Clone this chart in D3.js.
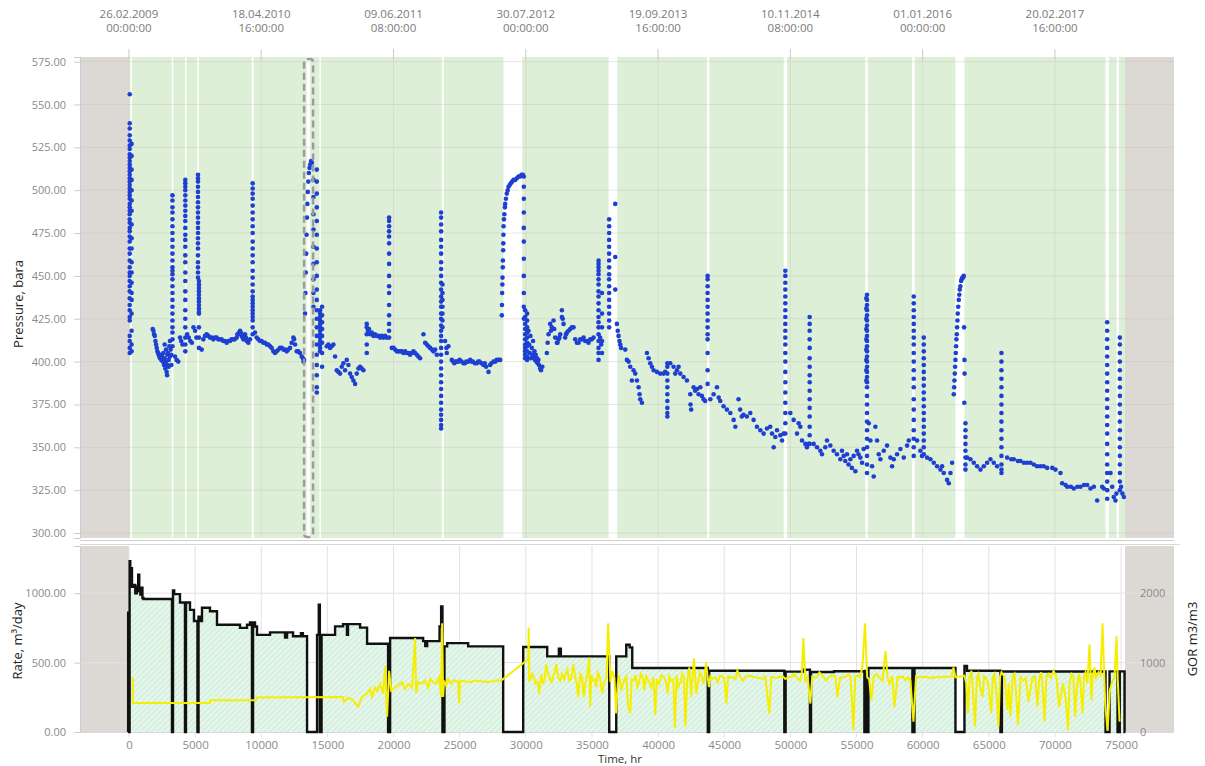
<!DOCTYPE html>
<html><head><meta charset="utf-8">
<script src="https://cdn.jsdelivr.net/npm/d3@7"></script>
<style>
body{margin:0;background:#fff;}
text{font-family:"Open Sans","Liberation Sans",sans-serif;}
</style></head><body>
<svg id="chart" width="1205" height="766"></svg>
<script>
// ---------------- DATA ----------------
const timeTicks = [0,5000,10000,15000,20000,25000,30000,35000,40000,45000,50000,55000,60000,65000,70000,75000];
const dateTickHours = [0,10000,20000,30000,40000,50000,60000,70000];
const dateTickLabels = [["26.02.2009","00:00:00"],["18.04.2010","16:00:00"],["09.06.2011","08:00:00"],["30.07.2012","00:00:00"],["19.09.2013","16:00:00"],["10.11.2014","08:00:00"],["01.01.2016","00:00:00"],["20.02.2017","16:00:00"]];
const pressureTicks = [300,325,350,375,400,425,450,475,500,525,550,575];
const rateTicks = [0,500,1000];
const gorTicks = [0,1000,2000];
const productionWindow = [0,75300];
const highlightPeriod = [13240,13920];
const shutInPeriods = [[120,220],[3230,3350],[4240,4330],[5170,5290],[9280,9430],[13440,13690],[14400,14520],[23650,23800],[28310,29730],[36260,36910],[43700,43870],[49500,49750],[55670,55850],[59200,59400],[62480,63160],[73825,74080],[74660,74830]];

// pressure: single points [hours, bar]
const pressurePoints = [
[1800,419],[1850,418],[1900,416],[1950,415],[2000,412],[2050,410],[2100,408],[2150,406],[2200,405],[2250,404],[2300,403],[2350,402],[2400,404],[2450,401],[2500,403],[2550,400],[2600,405],[2650,398],[2700,402],[2750,396],[2800,400],[2850,394],[2880,392],[2900,398],[2950,405],[3000,401],[3050,409],[3100,403],[3150,407],[3200,404],[2700,410],[2800,407],[2900,404],[3000,397],[3100,412],[3200,398],
[3480,403],[3600,401],[3730,400],[3858,414],[3950,412],[4050,410],[4400,416],[4520,414],[4640,412],[4760,411],[4880,420],[5000,418],[5100,414],
[5500,407],[5622,413],[5750,415],[5874,416],[6000,415],[6127,414],[6250,414],[6379,413],[6500,414],[6631,414],[6750,413],[6883,413],[7000,413],[7135,412],[7250,412],[7388,411],[7500,412],[7640,412],[7750,413],[7892,413],[8000,413],[8144,414],[8200,416],[8270,416],[8330,417],[8396,418],[8460,417],[8522,415],[8590,414],[8648,413],[8700,415],[8774,416],[8840,414],[8900,412],[8960,412],[9026,411],[9152,413],
[9530,417],[9656,414],[9780,413],[9909,412],[10030,412],[10161,411],[10290,411],[10413,410],[10540,410],[10665,409],[10790,408],[10917,406],[11043,405],[11169,406],[11300,407],[11422,408],[11550,408],[11674,407],[11800,407],[11926,406],[12050,407],[12178,408],[12300,411],[12430,414],[12480,413],[12556,410],[12682,406],[12800,406],[12934,405],[13060,403],[13150,402],[13200,400],[13237,401],
[13313,428],[13340,440],[13370,452],[13400,463],[13430,474],[13460,484],[13490,492],[13520,499],[13560,505],[13600,510],[13650,513],[13700,515],[13760,517],[13830,516],
[14952,409],[15078,410],[15203,408],[15330,409],[15456,410],[15582,403],[15708,395],[15834,394],[15960,393],[16086,397],[16212,399],[16338,395],[16464,401],[16590,398],[16716,393],[16842,391],[16968,389],[17095,387],[17221,393],[17347,396],[17473,397],[17599,396],[17725,395],
[18060,418],[18150,419],[18229,416],[18355,417],[18481,415],[18600,416],[18733,415],[18860,415],[18986,414],[19110,415],[19238,414],[19360,415],[19490,414],
[19868,408],[20000,408],[20120,407],[20246,406],[20370,406],[20498,406],[20620,406],[20750,405],[20880,406],[21003,405],[21130,405],[21255,404],[21380,405],[21507,406],[21630,405],[21759,404],[21880,403],[22011,402],
[22263,416],[22390,411],[22516,410],[22640,409],[22768,408],[22900,407],[23020,406],[23150,407],[23272,404],
[23900,412],[24000,408],[24029,405],[24150,409],
[24407,401],[24500,400],[24600,399],[24700,400],[24785,400],[24900,400],[25000,401],[25150,400],[25289,399],[25400,399],[25500,400],[25650,400],[25793,401],[25900,400],[26000,400],[26150,399],[26298,399],[26400,400],[26500,400],[26650,399],[26802,398],[26900,399],[27000,397],[27180,394],[27300,398],[27400,399],[27558,400],[27700,400],[27800,401],[27950,401],[28062,401],
[28188,427],[28200,433],[28214,440],[28230,445],[28240,449],[28260,455],[28270,459],[28290,465],[28300,469],[28310,474],[28320,479],[28350,483],[28380,486],[28420,490],[28441,492],[28500,495],[28567,498],[28630,500],[28693,502],[28780,503],[28870,504],[28970,505],[29071,506],[29200,506],[29323,507],[29450,508],[29575,508],[29680,509],[29777,509],
[30200,418],[30250,410],[30300,405],[30350,415],[30400,402],[30450,408],[30500,404],[30550,412],[30600,403],[30650,406],[30700,401],[30750,404],[30800,400],[30850,402],[30900,399],[30950,401],[31000,398],[31088,396],[31150,395],[31250,397],
[31592,405],[31650,411],[31718,416],[31844,422],[31900,418],[31970,420],[32096,424],[32150,419],[32223,414],[32349,411],[32400,411],[32475,413],[32540,414],[32601,416],[32727,430],[32727,426],[32790,425],[32853,422],[32979,414],[33040,416],[33105,417],[33231,418],[33357,419],[33480,420],[33609,420],[33735,413],[33861,411],[33990,411],[34114,413],[34240,413],[34366,414],[34490,412],[34618,412],[34740,411],[34870,413],[34990,413],[35122,414],
[35620,414],[35700,410],
[36761,492],[36761,461],[36761,442],
[36887,422],[36950,418],[37010,415],[37080,412],[37140,410],[37200,408],[37517,407],[37643,401],[37770,400],[37895,397],[38021,389],[38147,395],[38273,393],[38400,389],[38526,385],[38600,381],[38652,378],[38778,376],
[39156,405],[39282,402],[39408,399],[39534,397],[39660,395],[39912,394],[40164,393],[40416,393],[40540,394],
[40920,399],[41171,397],[41297,393],[41423,395],[41549,397],[41675,393],[41929,391],[42180,389],
[42433,381],[42450,375],[42500,372],[42687,385],[42800,383],[42940,384],[43060,381],[43190,385],[43310,380],[43440,378],[43560,377],
[43950,378],[44200,381],[44450,385],[44580,379],[44700,377],[44950,374],[45200,372],[45460,370],[45710,366],[45840,362],[46080,378],[46200,372],[46330,368],[46460,369],[46710,368],[46971,370],[47220,366],[47470,362],[47730,360],[47980,358],[48231,361],[48480,362],[48610,358],[48740,350],[48860,356],[48990,360],[49240,357],[49370,354],[49490,358],
[49996,370],[50248,366],[50500,358],[50626,364],[50752,362],[50880,354],[51130,352],[51250,350],[51380,352],
[51760,352],[52013,350],[52264,348],[52390,346],[52640,350],[52770,354],[53020,351],[53273,348],[53525,346],[53776,343],[54030,345],[54282,346],[54534,343],[54786,345],[54912,336],[55038,348],[55290,344],[55542,349],[53900,348],[54150,342],[54400,340],[54650,338],[55150,346],[55420,341],
[55923,364],[56050,354],[56175,339],[56301,333],[56427,362],[56553,354],[56680,346],[56806,343],[57058,348],[57310,351],[57562,344],[57688,339],[57814,343],[58066,346],[58318,349],[58570,344],[58822,351],[58948,354],
[59580,354],[59830,348],[59950,345],
[60335,344],[60587,343],[60839,341],[61091,339],[61343,337],[61469,339],[61595,335],[61847,331],[61973,329],[62100,335],[62225,341],
[62351,381],[62380,385],[62402,389],[62430,393],[62452,397],[62480,401],[62503,405],[62530,409],[62553,413],[62580,416],[62604,420],[62630,424],[62654,428],[62690,432],[62730,436],[62770,439],[62806,442],[62850,444],[62906,447],[62950,448],[63007,449],[63060,449],[63108,450],
[63130,420],[63160,401],[63170,393],[63150,376],
[63360,344],[63612,343],[63864,341],[64116,339],[64368,337],[64620,339],[64872,341],[65124,343],[65376,341],[65628,339],
[66385,344],[66700,343],[66890,343],[67200,342],[67394,342],[67650,341],[67898,341],[68150,341],[68402,340],[68650,339],[68906,339],[69150,339],[69410,338],[69800,338],[70040,337],
[70419,335],[70545,329],[70800,328],[70923,327],[71200,327],[71427,326],[71700,327],[71931,327],[72200,328],[72435,328],[72688,326],[72940,327],[73192,319],[73570,327],[73696,326],
[74200,335],[74325,327],[74450,321],[74578,319],[74650,323],
[75000,327],[75100,323],[75209,321]
];

// pressure: vertical runs of readings taken close together [hours, [bar...]]
const pressureColumns = [
[60,[556,539,536,532,529,526,524,521,519,517,515,513,511,509,507,505,503,501,499,497,495,492,490,488,486,483,481,478,476,473,470,466,463,459,455,452,450,447,444,441,437,433,430,426,424,415,412,408,405]],
[200,[527,520,512,506,500,494,488,480,472,466,458,452,446,440,436,428,418,410,406]],
[3290,[497,494,490,487,483,479,475,471,467,463,459,455,453,451,448,444,440,436,432,428,424,420,417,413,409]],
[4260,[506,504,502,500,497,494,491,488,485,482,478,474,471,467,462,458,452,447,441,436,430,425,420,414,410,406]],
[5220,[509,507,505,502,499,496,493,490,487,484,481,478,475,472,469,466,462,458,455,452,449]],
[5290,[447,445,443,441,439,437,435,433,431,429,428,420,414,408]],
[9354,[504,501,498,495,491,487,483,479,475,470,466,462,458,453,449,445,441,438,436,434,432,430,428,426,424,420,416]],
[13950,[506,496,486,477,467,457,448,440,432]],
[14200,[512,505,498,490,482,474,466,458,450,442,436,430,425,420,415,410,404,398,392,385,382]],
[14450,[430,428,426,424,422,420,418,416,414,412,410,408,406]],
[14600,[432,427,423,419,415,411,405,397]],
[17977,[422,420,416,410,405]],
[19666,[484,482,479,476,473,469,463,457,450,444,440,433,427,422,418,414]],
[23600,[487,484,480,476,471,467,463,458,454,450,446,442,438,435,432,428,425,421,418,415,412,408,404,400,396,392,388,384,380,376,372,369,366,363,361]],
[23700,[445,440,436,432,428,424,420]],
[29850,[508,502,495,487,478,470,460,450,440,432,425]],
[29950,[430,426,422,419,416,413,410,408,406,404,402]],
[30100,[428,424,420,417,414,411,409,406,403,401]],
[35500,[459,457,455,453,451,448,445,441,438,434,430,426,423,420,416,412,408,405,401]],
[35760,[440,428,420,412,405]],
[36300,[483,479,475,471,467,463,459,455,451,448,444,440,436,432,428,424,420]],
[40700,[399,397,393,389,385,381,377,373,370,368]],
[43744,[450,448,444,440,436,432,428,424,420,416,413,405,395,387]],
[49618,[453,450,446,442,438,434,430,426,422,418,414,410,405,400,394,388,382,376,370,364,358]],
[51458,[426,422,418,413,408,402,397,392,388,383,378,373,368,362,357,352]],
[55740,[437,431,425,419,413,407,401,395,389]],
[55794,[439,436,433,430,427,424,421,418,415,412,409,406,403,400,397,394,391,388,385,380,375,370,365,360,355,350,345,340,335]],
[59326,[438,434,430,426,422,418,414,410,405,400,395,390,385,378,372,366,360,355,350,345]],
[60083,[414,410,406,402,398,394,390,386,382,378,374,370,366,362,358,354,350,346]],
[63235,[364,360,356,352,348,344,340,337]],
[65957,[405,400,395,390,385,380,375,370,365,360,355,350,345,340,337,335]],
[73948,[423,418,413,408,403,398,393,388,383,378,373,368,363,358,352,346,340,335,330,325,320]],
[74906,[414,410,405,400,395,390,385,380,375,370,365,360,355,350,345,340,335,330,325]]
];

// liquid rate, step changes [hours, m3/day]
const rateSteps = [
[-80,0],[-60,860],[20,0],[50,1230],[100,1050],[160,1180],[230,1046],[350,1060],[480,1000],[600,1046],[700,1133],[780,1015],[860,990],[940,1040],[1020,965],[1100,958],
[3253,0],[3330,1020],[3420,993],[3858,933],
[4236,0],[4311,933],[4614,880],[4917,800],
[5180,0],[5260,830],[5370,800],[5522,895],[6127,870],[6656,773],[8396,750],[8925,773],[9152,790],
[9300,0],[9380,790],[9530,760],[9682,700],[10665,718],[11800,680],[11951,718],[12405,690],[13000,712],[13150,690],
[13464,0],[14220,700],[14350,917],[14430,0],[14560,700],
[15582,761],[16187,777],[16480,700],[16560,777],[17473,752],[18002,636],
[19590,0],[19742,677],
[22238,655],[22400,620],[22541,655],[23480,760],[23600,905],[23700,0],[23850,617],[24054,640],[25642,617],
[28289,0],[29802,612],[31618,545],[32500,600],[32650,545],
[36307,0],[36837,545],[37593,629],[37850,610],[38047,461],
[43760,0],[43860,441],
[49544,0],[49640,435],[50981,448],
[51480,0],[51560,432],[53300,438],
[55596,0],[55650,440],[55700,0],[55760,440],[55820,0],[55900,461],
[59226,0],[59380,461],
[62479,0],[63160,475],[63350,441],
[65882,0],[65990,436],
[73825,0],[74127,437],
[74732,0],[74900,437],[75262,0],[75320,0]
];

// gas-oil ratio [hours, m3/m3]
const gorSeries = [
[280,788],[300,419],[6120,419],[6140,457],[9620,457],[9640,496],[16187,504],[16250,434],[16565,490],[16868,470],[17322,363],[17624,504],[18002,552],[18229,623],[18380,504],[18607,640],[18759,590],[18986,694],[19213,552],[19364,953],[19515,221],[19666,882],[19818,600],[20120,640],[20347,670],[20650,717],[20877,620],[21104,694],[21406,640],[21633,1354],[21709,557],[21860,717],[22163,694],[22390,741],[22617,640],[22768,765],[22995,717],[23222,694],[23449,788],[23600,504],[23675,1567],[23751,504],[23827,741],[23978,670],[24129,765],[24356,694],[24583,750],[24886,717],[24961,415],[25037,741],[25793,717],[26171,741],[26550,730],[27155,717],[27684,741],[28138,741],[30180,1048],[30218,1506],[30256,741],[30483,836],[30634,788],[30710,694],[31012,552],[31164,836],[31315,694],[31542,977],[31693,836],[31844,765],[32071,812],[32298,977],[32449,788],[32752,836],[33055,860],[33282,741],[33584,977],[33736,788],[33963,504],
[34114,836],[34386,504],[34643,812],[34794,1071],[34870,363],[35059,741],[35324,646],[35596,788],[35778,552],[36005,741],[36224,1567],[36534,882],[36814,269],[36950,694],[37215,600],[37487,765],[37744,363],[37895,269],[38167,741],[38425,646],[38705,836],[38955,600],[39257,741],[39484,646],[39786,245],[40059,694],[40468,788],[40733,552],[40997,741],[41270,57],[41527,646],[41830,836],[42057,80],[42359,929],[42510,504],[42707,1060],[42888,552],[43160,860],[43417,694],[43621,1000],[43841,646],[44098,765],[44514,717],[44779,812],[45157,410],[45460,788],[45989,882],[46405,741],[46821,812],[47351,788],[47880,765],[48410,269],[48712,788],[49242,797],[49620,765],[50051,788],[50300,836],[50724,741],[50981,1354],[51133,741],[51511,410],[51814,788],[52192,860],[52721,741],[53175,812],[53554,504],[53970,788],[54386,836],[54764,33],[55066,812],[55444,929],[55641,1567],[55807,788],[56125,458],[56503,836],[56957,741],[57184,1166],[57486,694],[57865,363],[58288,788],[58697,741],[59075,741],[59302,150],[59642,788],[60588,780],[61397,788],[62000,795],[62327,929],[62479,788],[63160,812],[63425,269],[63689,882],[63961,80],[64218,836],[64521,504],[64748,788],[65180,269],[65429,836],[65732,80],[65958,860],[66412,316],[66639,221],[66941,836],[67206,100],[67622,741],[68000,434],[68303,788],[68681,363],[68961,860],[69211,150],[69513,836],[69892,882],[70315,363],[70989,33],[71254,836],[71526,221],[71783,836],[72086,269],[72313,860],[72615,1260],[72766,458],[72993,929],[73296,860],[73598,1567],[73976,20],[74354,741],[74657,1380],[74884,150]
];
// additional GOR readings in the noisy stretches [hours, m3/m3]
const gorExtra = [
[30350,760],[30560,800],[30900,720],[31420,760],[31950,700],[32180,850],[32600,740],[32900,760],[33150,900],[33450,780],[33850,700],
[34250,790],[34500,700],[34950,820],[35200,760],[35450,850],[35900,700],[36100,800],[36400,720],[36700,780],[37050,820],[37350,700],[37600,800],[38000,760],[38300,820],[38550,700],[38850,780],[39100,820],[39380,700],[39650,790],[39900,760],[40250,820],[40600,720],[40850,800],[41150,760],[41400,820],[41700,720],[41950,790],[42200,740],[42600,780],[43000,700],[43300,800],[43500,760],[43950,800],
[44300,790],[44650,800],[45000,780],[45300,800],[45650,790],[45850,760],[46200,800],[46600,790],[47100,800],[47600,780],[48100,800],[48550,790],[49000,780],[49450,800],[49850,790],[50150,800],[50500,780],[50850,800],[51300,790],[51650,800],[52000,790],[52450,810],[52900,790],[53400,800],[53750,780],[54200,800],[54550,790],[54900,800],[55250,790],
[55950,760],[56300,800],[56700,790],[57000,820],[57350,790],[57700,800],[58100,790],[58500,800],[58900,790],[59500,800],[59900,790],[60200,795],[60900,790],[61700,795],[62200,800],
[63300,700],[63550,800],[63800,600],[64100,790],[64350,650],[64650,800],[64950,700],[65300,790],[65600,500],[65850,800],[66200,790],[66500,700],[66800,800],[67050,600],[67400,790],[67800,780],[68150,620],[68500,800],[68800,750],[69050,700],[69350,800],[69700,780],[70100,800],[70600,700],[70800,500],[71100,700],[71400,800],[71650,600],[71900,780],[72200,800],[72450,700],[72850,800],[73100,780],[73450,820],[73800,400],[74150,600],[74500,780],[74750,750]
];

// ---------------- CHART ----------------
const svg = d3.select("#chart");
const L = 80, R = 1174, PT = 57, PB = 538, BT = 546, BB = 732;
const x = d3.scaleLinear().domain([-3700, 79000]).range([L, R]);
const yP = d3.scaleLinear().domain([297.1, 577.7]).range([PB, PT]);
const yR = d3.scaleLinear().domain([0, 1340]).range([BB, BT]);
const yG = d3.scaleLinear().domain([0, 2680]).range([BB, BT]);

const GRAY = "#dcd9d5", GREEN = "#ddefd6";
const defs = svg.append("defs");
const pat = defs.append("pattern").attr("id","hatch").attr("patternUnits","userSpaceOnUse")
  .attr("width",4).attr("height",4).attr("patternTransform","rotate(45)");
pat.append("rect").attr("width",4).attr("height",4).attr("fill","#e4f6ea");
pat.append("line").attr("x1",0).attr("y1",0).attr("x2",0).attr("y2",4).attr("stroke","#c6ead3").attr("stroke-width",1.6);

// ---- top panel ----
const topG = svg.append("g");
topG.append("rect").attr("x",L).attr("y",PT).attr("width",R-L).attr("height",PB-PT).attr("fill",GRAY);
topG.append("rect").attr("x",x(productionWindow[0])).attr("y",PT)
  .attr("width",x(productionWindow[1])-x(productionWindow[0])).attr("height",PB-PT).attr("fill",GREEN);
topG.selectAll("rect.shut").data(shutInPeriods).join("rect").attr("class","shut")
  .attr("x",d=>x(d[0])).attr("y",PT).attr("width",d=>Math.max(1.5,x(d[1])-x(d[0]))).attr("height",PB-PT).attr("fill","#ffffff");
topG.selectAll("line.hg").data(pressureTicks).join("line").attr("class","hg")
  .attr("x1",L).attr("x2",R).attr("y1",d=>yP(d)).attr("y2",d=>yP(d))
  .attr("stroke","#c8b8b8").attr("stroke-opacity",0.35).attr("stroke-width",1);
topG.selectAll("line.vg").data(dateTickHours).join("line").attr("class","vg")
  .attr("x1",d=>x(d)).attr("x2",d=>x(d)).attr("y1",PT).attr("y2",PB)
  .attr("stroke","#c8b8b8").attr("stroke-opacity",0.3).attr("stroke-width",1);

const ptsAll = pressurePoints.concat(pressureColumns.flatMap(c => c[1].map(p => [c[0], p])));
topG.append("g").selectAll("circle").data(ptsAll).join("circle")
  .attr("cx",d=>x(d[0])).attr("cy",d=>yP(d[1])).attr("r",2.3).attr("fill","#1d3fd2");

topG.append("rect").attr("x",x(highlightPeriod[0])).attr("y",PT+2)
  .attr("width",x(highlightPeriod[1])-x(highlightPeriod[0])).attr("height",PB-PT-3)
  .attr("rx",3).attr("fill","none").attr("stroke","#9c9c9c").attr("stroke-width",2.5).attr("stroke-dasharray","7,4");

const axP = svg.append("g").attr("transform",`translate(${L},0)`)
  .call(d3.axisLeft(yP).tickValues(pressureTicks).tickFormat(d3.format(".2f")).tickSize(6).tickPadding(8));
axP.select(".domain").attr("stroke","#c5cddb");
axP.selectAll(".tick line").attr("stroke","#cfcfcf");
axP.selectAll("text").attr("fill","#8a8a8a").attr("font-size",11).attr("font-family","Open Sans, Liberation Sans, sans-serif");

const dAx = svg.append("g");
dAx.selectAll("line").data(dateTickHours).join("line")
  .attr("x1",d=>x(d)).attr("x2",d=>x(d)).attr("y1",49).attr("y2",PT+2).attr("stroke","#c9c9c9");
dateTickHours.forEach((h,i)=>{
  const t = dAx.append("text").attr("x",x(h)).attr("text-anchor","middle").attr("fill","#7a7a7a").attr("font-size",11.5);
  t.append("tspan").attr("x",x(h)).attr("y",18).text(dateTickLabels[i][0]);
  t.append("tspan").attr("x",x(h)).attr("y",32).text(dateTickLabels[i][1]);
});

svg.append("line").attr("x1",L).attr("x2",R).attr("y1",540.5).attr("y2",540.5).attr("stroke","#cfcfcf");
svg.append("line").attr("x1",L).attr("x2",R+6).attr("y1",544.5).attr("y2",544.5).attr("stroke","#d8d8d8");

// ---- bottom panel ----
const botG = svg.append("g");
botG.append("rect").attr("x",L).attr("y",BT).attr("width",x(productionWindow[0])-L).attr("height",BB-BT).attr("fill",GRAY);
botG.append("rect").attr("x",x(productionWindow[1])).attr("y",BT).attr("width",R-x(productionWindow[1])).attr("height",BB-BT).attr("fill",GRAY);
botG.selectAll("line.vg").data(timeTicks).join("line").attr("class","vg")
  .attr("x1",d=>x(d)).attr("x2",d=>x(d)).attr("y1",BT).attr("y2",BB+5).attr("stroke","#e2e2e2");
botG.selectAll("line.hg").data(rateTicks.slice(1)).join("line").attr("class","hg")
  .attr("x1",L).attr("x2",R).attr("y1",d=>yR(d)).attr("y2",d=>yR(d)).attr("stroke","#e2e2e2");
botG.append("line").attr("x1",L).attr("x2",R).attr("y1",BB+0.5).attr("y2",BB+0.5).attr("stroke","#dadada");

const area = d3.area().curve(d3.curveStepAfter).x(d=>x(d[0])).y0(yR(0)).y1(d=>yR(d[1]));
botG.append("path").datum(rateSteps).attr("d",area).attr("fill","url(#hatch)");
const rline = d3.line().curve(d3.curveStepAfter).x(d=>x(d[0])).y(d=>yR(d[1]));
botG.append("path").datum(rateSteps).attr("d",rline).attr("fill","none").attr("stroke","#111").attr("stroke-width",2.4);
const gorAll = gorSeries.concat(gorExtra).sort((a,b)=>a[0]-b[0]);
const gline = d3.line().x(d=>x(d[0])).y(d=>yG(d[1]));
botG.append("path").datum(gorAll).attr("d",gline).attr("fill","none").attr("stroke","#f5ee00").attr("stroke-width",2);

const axR = svg.append("g").attr("transform",`translate(${L},0)`)
  .call(d3.axisLeft(yR).tickValues(rateTicks).tickFormat(d3.format(".2f")).tickSize(6).tickPadding(8));
axR.select(".domain").attr("stroke","#c5cddb");
axR.selectAll(".tick line").attr("stroke","#cfcfcf");
axR.selectAll("text").attr("fill","#8a8a8a").attr("font-size",11).attr("font-family","Open Sans, Liberation Sans, sans-serif");

const axG = svg.append("g").attr("transform",`translate(${x(productionWindow[1])},0)`)
  .call(d3.axisRight(yG).tickValues(gorTicks).tickFormat(d3.format("d")).tickSize(0).tickPadding(15));
axG.select(".domain").remove();
axG.selectAll("text").attr("fill","#8a8a8a").attr("font-size",11).attr("font-family","Open Sans, Liberation Sans, sans-serif");

const axT = svg.append("g").attr("transform",`translate(0,${BB})`)
  .call(d3.axisBottom(x).tickValues(timeTicks).tickFormat(d3.format("d")).tickSize(0).tickPadding(9));
axT.select(".domain").remove();
axT.selectAll("text").attr("fill","#8a8a8a").attr("font-size",11.5)
  .attr("font-family","Liberation Sans Narrow, DejaVu Sans Condensed, sans-serif");

svg.append("text").attr("transform","translate(23,304) rotate(-90)").attr("text-anchor","middle")
  .attr("font-size",13).attr("fill","#222").attr("font-family","Liberation Sans, Arial, sans-serif").text("Pressure, bara");
svg.append("text").attr("transform","translate(22,641) rotate(-90)").attr("text-anchor","middle")
  .attr("font-size",13).attr("fill","#222").attr("font-family","Liberation Sans, Arial, sans-serif").text("Rate, m³/day");
svg.append("text").attr("transform","translate(1197,639) rotate(-90)").attr("text-anchor","middle")
  .attr("font-size",13).attr("fill","#222").attr("font-family","Liberation Sans, Arial, sans-serif").text("GOR m3/m3");
svg.append("text").attr("x",620).attr("y",763).attr("text-anchor","middle")
  .attr("font-size",11.5).attr("fill","#333").attr("font-family","Liberation Sans Narrow, DejaVu Sans Condensed, sans-serif").text("Time, hr");
</script>
</body></html>
